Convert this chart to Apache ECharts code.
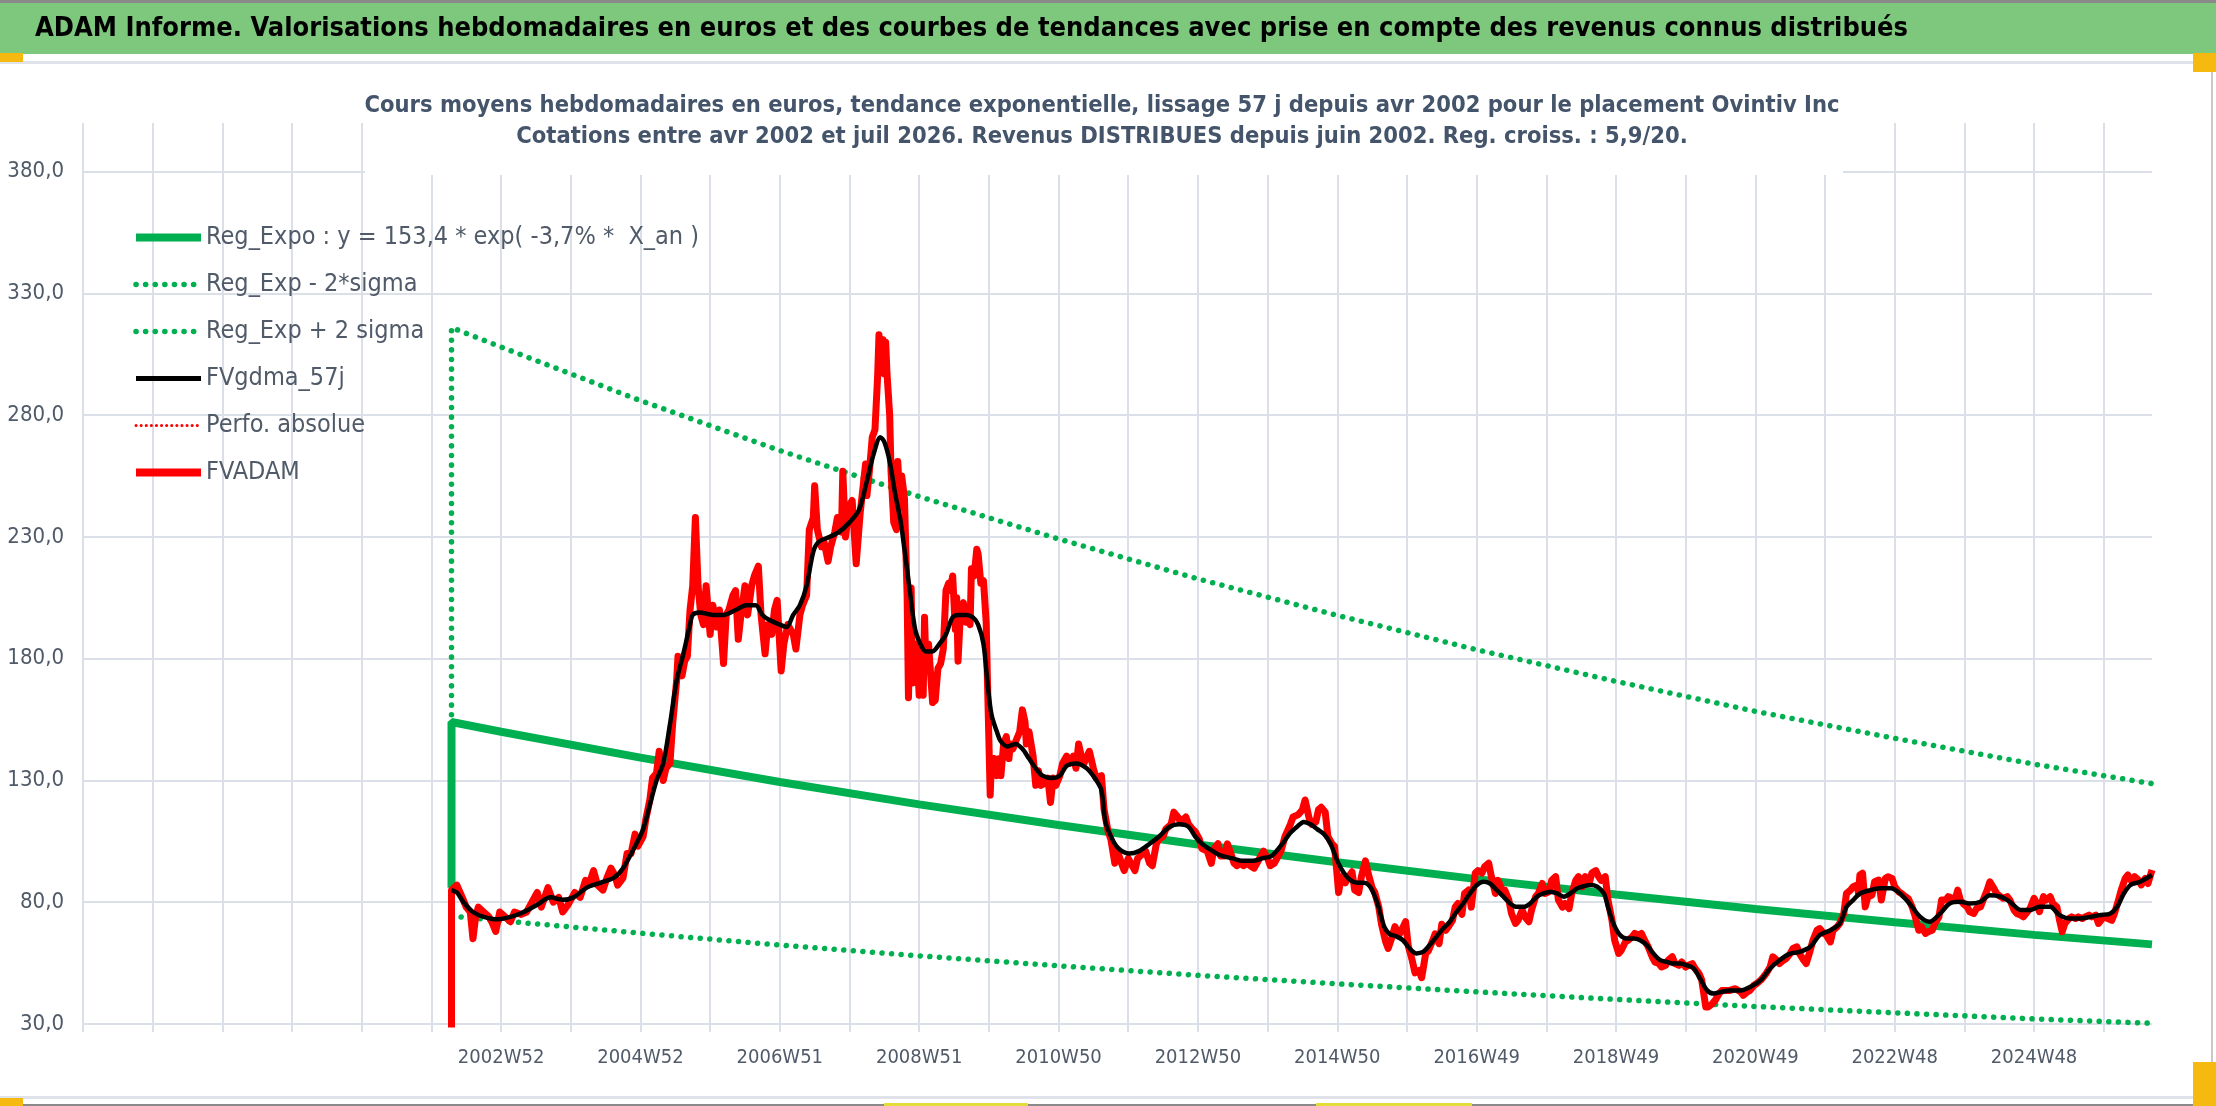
<!DOCTYPE html>
<html>
<head>
<meta charset="utf-8">
<script src="https://cdn.jsdelivr.net/npm/echarts@6/dist/echarts.min.js"></script>
<style>
  html, body { margin: 0; padding: 0; background: #fff; }
  #chart { width: 2216px; height: 1106px; }
</style>
</head>
<body>
<div id="chart"></div>
<script>
// axe X : index de semaine depuis le debut de l'axe (1 graduation = 52 semaines)
var xTickLabels = ['', '', '', '2002W52', '2004W52', '2006W51', '2008W51', '2010W50',
    '2012W50', '2014W50', '2016W49', '2018W49', '2020W49', '2022W48', '2024W48'];

// courbes de tendance (Reg_Expo et +/- 2 sigma)
var trendWeeks  = [275, 275, 312, 416, 520, 624, 728, 832, 936, 1040, 1144, 1248, 1352, 1456, 1544];
var regExpo     = [86, 154, 150, 139.4, 129.4, 120.2, 111.7, 103.7, 96.4, 89.5, 83.2, 77.2, 71.8, 66.6, 62.7];
var regExpMinus = [74.3, 74.3, 72.4, 67.3, 62.4, 58.0, 53.9, 50.0, 46.5, 43.2, 40.1, 37.2, 34.6, 32.1, 30.3];
var regExpPlus  = [157, 316, 308, 286, 265.5, 246.6, 229.2, 212.8, 197.8, 183.7, 170.7, 158.4, 147.3, 136.7, 128.7];

// FVADAM (cours hebdo)
var adamWeeks = [275,275,279,283,286,289,291,293,295,299,303,305,308,311,315,319,322,327,331,335,339,342,347,351,355,358,362,367,371,375,378,381,384,388,391,394,397,399,403,406,409,412,414,418,420,423,425,428,430,433,435,438,440,443,444,447,449,451,453,455,457,459,461,463,465,468,470,473,475,478,480,482,485,487,489,491,494,496,499,501,504,506,509,511,514,516,518,521,523,526,530,532,535,537,540,542,545,546,548,551,553,556,558,561,563,566,567,569,572,574,577,580,582,584,585,587,589,591,593,594,595,597,598,599,600,602,603,605,607,608,610,611,613,615,616,618,619,620,622,624,625,627,628,629,631,632,634,636,638,640,642,644,646,647,649,651,652,653,655,657,659,660,662,663,665,667,668,670,672,674,675,677,678,680,682,684,685,687,689,691,692,694,696,699,701,703,704,706,709,711,713,715,718,720,722,724,726,729,731,734,736,739,741,743,745,747,751,754,756,760,762,765,767,770,772,775,777,780,782,785,787,789,793,796,798,801,803,806,808,812,814,817,819,823,825,828,830,833,835,839,842,844,847,849,852,854,856,859,861,864,866,869,871,874,876,879,881,884,886,889,891,894,897,901,903,907,910,912,915,917,920,922,924,927,929,932,934,937,939,942,944,947,949,952,954,957,959,962,964,967,969,972,974,977,979,982,984,987,989,992,994,997,999,1002,1004,1007,1009,1012,1014,1017,1019,1022,1024,1026,1029,1031,1034,1036,1039,1041,1044,1046,1049,1051,1054,1056,1059,1061,1064,1066,1069,1071,1074,1076,1079,1081,1084,1086,1089,1091,1094,1096,1099,1101,1104,1106,1109,1111,1114,1116,1119,1121,1124,1126,1129,1131,1133,1136,1138,1141,1143,1146,1148,1151,1153,1156,1158,1161,1163,1166,1168,1171,1173,1176,1178,1181,1183,1186,1188,1191,1193,1196,1198,1201,1203,1206,1208,1211,1213,1216,1218,1221,1223,1225,1229,1233,1237,1239,1242,1244,1247,1249,1252,1254,1256,1259,1261,1264,1266,1269,1271,1274,1276,1279,1281,1284,1286,1289,1291,1294,1296,1299,1301,1304,1306,1309,1311,1314,1316,1319,1321,1324,1325,1326,1328,1330,1332,1335,1337,1340,1342,1345,1347,1350,1352,1355,1357,1360,1362,1365,1367,1370,1372,1375,1377,1380,1382,1385,1387,1390,1392,1395,1397,1399,1401,1403,1406,1408,1411,1413,1416,1418,1421,1423,1426,1428,1431,1433,1436,1438,1441,1443,1446,1448,1451,1453,1456,1458,1460,1463,1465,1468,1470,1473,1475,1477,1479,1482,1484,1487,1489,1492,1494,1497,1499,1502,1504,1507,1509,1511,1514,1516,1519,1521,1524,1526,1529,1531,1534,1536,1539,1541,1544];
var adamValues = [0,85,87,82,78,76,65,74,78,76,74,72,68,76,74,72,76,75,76,80,84,78,86,80,82,76,79,84,82,89,88,93,87,85,90,94,91,87,90,100,100,108,103,107,114,122,131,133,142,130,135,137,153,171,181,173,179,181,200,210,238,210,198,194,210,190,202,193,200,178,198,200,206,208,188,198,210,198,210,214,218,198,182,194,190,200,204,175,186,194,190,184,198,202,206,233,238,251,233,226,228,220,226,232,238,232,257,230,243,245,219,240,250,260,247,258,271,274,296,313,299,311,297,310,297,280,257,236,233,261,242,255,246,206,164,209,170,178,186,165,186,165,197,178,186,178,162,163,176,178,184,208,211,208,214,192,205,179,201,203,195,198,194,217,214,225,223,211,212,195,170,124,139,139,132,139,132,145,148,139,145,143,146,150,159,154,145,150,140,128,134,128,129,131,121,131,128,132,137,140,137,140,135,145,140,137,142,135,131,132,118,109,106,96,101,96,93,98,96,93,98,99,101,96,95,104,106,107,110,112,117,115,113,115,112,110,109,106,102,101,96,102,104,99,99,104,101,96,95,96,95,96,95,94,96,99,101,98,95,96,98,101,107,112,115,116,118,122,114.5,112,113,118,119,117,107,104,103,84,90.5,88,90,92.5,85,84,90.5,97,92,86,84,78,71,64,61,66,70,66.5,68.5,72,62,56,51,52,49,59,60,64,67,63,71,68.5,70,72.6,78,79.5,75,83.6,85,78,92,93,92,94.6,96,90.5,83.6,89,85,85,81,75.4,71.3,72.6,76.8,74,72,76.8,82.3,83.6,87.7,83.6,84.3,89,90.5,81,78,79.5,77.4,83.6,89,90.5,86.4,90.5,87.7,92,93,90.5,89,90.5,81,72.6,64.4,59,60.3,63.7,64.4,65.8,67.2,66.5,67.2,63.7,61.7,57.6,55.5,54.8,53.4,54.1,56.2,57.6,54.8,54.1,55.5,53.4,54.1,54.8,52.8,50.7,48,37,37,38.4,39.7,42.5,43.8,43.8,43.8,44.5,43.2,41.8,43.2,43.8,45.9,46.6,48,49.3,50.7,53.4,57.6,56.2,54.8,56.2,56.9,58.9,61,61.7,58.9,56.2,54.8,60.3,64.4,68.5,69.2,67.2,66.5,63.7,68.5,69.9,71.3,75.4,83.6,85,86.4,87.1,83.6,91.2,91.9,78.1,82.3,82.9,88.4,89.1,80.9,89.8,90.5,89.8,86.4,84.3,83.6,82.3,81.6,78.1,74.7,68.5,69.9,67.2,67.9,68.5,71.3,74,80.9,80.9,82.3,81.6,80.9,85,80.9,79.5,78.1,76.1,75.4,77.4,78.1,80.9,85,88.4,85.7,83.6,82.3,81.6,82.3,80.9,76.8,75.4,74.7,74,76.1,77.4,81.6,79.5,76.1,82.3,80.9,82.3,79.5,78.1,72.6,67.9,71.3,73.3,74,73.3,74,73.3,74,74.7,74,74.7,71.3,73.3,74,73.3,72.6,75.4,80.9,85,89.8,91.2,88.4,90.5,89.1,87.1,89.8,87.7,93.2];

// FVgdma_57j (moyenne lissee)
var gdmaWeeks = [275,279,284,291,299,309,319,329,339,349,358,366,376,386,396,403,411,418,423,428,433,438,443,448,453,455,460,470,478,487,495,502,507,512,520,525,530,535,540,545,549,557,564,572,579,585,590,595,598,602,606,610,613,617,621,625,629,634,639,644,649,654,659,664,668,672,675,678,682,685,690,696,701,706,711,716,723,729,734,741,749,755,760,763,768,773,781,788,796,803,811,818,825,830,835,843,850,858,865,873,880,887,895,901,906,911,916,921,926,931,936,941,946,951,956,961,966,971,975,980,985,990,995,1000,1005,1010,1015,1020,1025,1030,1035,1040,1045,1050,1055,1060,1065,1070,1075,1080,1085,1090,1095,1100,1105,1110,1115,1120,1125,1130,1135,1138,1142,1147,1152,1157,1162,1167,1172,1177,1182,1187,1192,1197,1202,1207,1212,1217,1222,1229,1237,1244,1252,1259,1266,1274,1281,1289,1296,1304,1311,1316,1321,1326,1334,1341,1349,1356,1363,1371,1378,1386,1393,1401,1408,1416,1423,1431,1438,1446,1453,1460,1468,1475,1483,1490,1498,1505,1513,1518,1523,1528,1535,1544];
var gdmaValues = [85,84,80,76,74,73,74,76,79,82,81,82,86,88,90,94,102,110,120,130,137,153,171,182,194,198,199,198,198,200,202,202,198,196,194,193,198,202,210,224,228,230,232,236,241,253,264,271,269,261,248,237,225,208,192,186,183,183,186,190,197,198,198,197,194,186,170,157,150,146,144,145,143,139,135,132,131,132,136,137,135,131,126,113,106,102,100,101,104,107,111,112,111,107,104,101,99,98,97,97,98,99,104,108.5,111,113,112,110,108,104,97,92,89,88,88,86,79.5,70,67,66,64.4,61,59,59.6,62.4,65.8,69.2,72,76,79.5,83.6,87,88.4,87.7,85,82.3,79.5,78.1,78.1,79.5,82.3,83.6,84.3,83.6,82.3,83.6,85.7,86.6,87.1,86.4,83.6,78.1,71.3,66.5,65.1,65.1,64.4,62.4,58.9,56.2,55.5,54.8,54.8,54.1,52.8,48.4,43.8,42.5,43.1,43.8,43.8,45.2,48,52.8,56.2,58.9,59.6,61.7,66.5,68.5,71.3,78.1,80.9,83.6,85,85.7,85.7,83.6,79.5,74,72,75.4,79.5,80.2,79.5,80.2,82.9,82.3,80.2,76.8,76.8,78.1,78.1,74.7,73.3,73.3,74,74.7,75.4,78.1,83.6,87.1,88.4,91.2];

function pairs(xs, ys) {
    return xs.map(function (x, i) { return [x, ys[i]]; });
}

var narrow = "'DejaVu Sans Condensed', 'Liberation Sans Narrow', sans-serif";
var gridColor = '#dadfe8';
var txtColor = '#505a68';
var dots = [0.1, 9.5];

var titleText = 'ADAM Informe. Valorisations hebdomadaires en euros et des courbes de tendances avec prise en compte des revenus connus distribués';
var sub1 = 'Cours moyens hebdomadaires en euros, tendance exponentielle, lissage 57 j depuis avr 2002 pour le placement Ovintiv Inc';
var sub2 = 'Cotations entre avr 2002 et juil 2026. Revenus DISTRIBUES depuis juin 2002. Reg. croiss. : 5,9/20.';
var regName = 'Reg_Expo : y = 153,4 * exp( -3,7% *  X_an )';

var myChart = echarts.init(document.getElementById('chart'));
var option = {
    backgroundColor: '#fff',
    animation: false,
    graphic: [
        {type: 'rect', shape: {x: 0, y: 0, width: 2216, height: 3}, style: {fill: '#8a8a8a'}, z: 10},
        {type: 'rect', shape: {x: 0, y: 3, width: 2216, height: 51}, style: {fill: '#7ec87e'}, z: 10},
        {type: 'text', z: 11, style: {x: 35, y: 29, text: titleText, fill: '#000',
            font: 'bold 27px ' + narrow, verticalAlign: 'middle'}},
        {type: 'rect', shape: {x: 0, y: 61, width: 2193, height: 3}, style: {fill: '#dfe2e8'}, z: 10},
        {type: 'rect', shape: {x: 0, y: 1096, width: 2193, height: 3}, style: {fill: '#dfe2e8'}, z: 10},
        {type: 'rect', shape: {x: 2211, y: 72, width: 2, height: 990}, style: {fill: '#c8c8c8'}, z: 10},
        {type: 'rect', shape: {x: 0, y: 1104, width: 2216, height: 2}, style: {fill: '#8a8a8a'}, z: 10},
        {type: 'rect', shape: {x: 884, y: 1103, width: 144, height: 3}, style: {fill: '#e3dc3a'}, z: 11},
        {type: 'rect', shape: {x: 1316, y: 1103, width: 156, height: 3}, style: {fill: '#e3dc3a'}, z: 11},
        {type: 'rect', shape: {x: 0, y: 53, width: 23, height: 9}, style: {fill: '#f6b90f'}, z: 11},
        {type: 'rect', shape: {x: 2193, y: 53, width: 23, height: 19}, style: {fill: '#f6b90f'}, z: 11},
        {type: 'rect', shape: {x: 0, y: 1098, width: 23, height: 8}, style: {fill: '#f6b90f'}, z: 11},
        {type: 'rect', shape: {x: 2193, y: 1062, width: 23, height: 44}, style: {fill: '#f6b90f'}, z: 11},
        {type: 'rect', shape: {x: 365, y: 84, width: 1478, height: 91}, style: {fill: '#fff'}, z: 10},
        {type: 'text', z: 11, style: {x: 1102, y: 106, text: sub1, fill: '#44546a',
            font: 'bold 23.5px ' + narrow, align: 'center', verticalAlign: 'middle'}},
        {type: 'text', z: 11, style: {x: 1102, y: 137, text: sub2, fill: '#44546a',
            font: 'bold 23.5px ' + narrow, align: 'center', verticalAlign: 'middle'}}
    ],
    legend: {
        orient: 'vertical',
        left: 127,
        top: 220,
        itemWidth: 65,
        itemHeight: 24,
        itemGap: 22,
        itemStyle: {opacity: 0},
        textStyle: {color: txtColor, fontSize: 25, fontFamily: narrow},
        data: [
            {name: regName, lineStyle: {width: 8}},
            {name: 'Reg_Exp - 2*sigma', lineStyle: {width: 5.5}},
            {name: 'Reg_Exp + 2 sigma', lineStyle: {width: 5.5}},
            {name: 'FVgdma_57j', lineStyle: {width: 5}},
            {name: 'Perfo. absolue', lineStyle: {width: 3}},
            {name: 'FVADAM', lineStyle: {width: 8}}
        ]
    },
    grid: {left: 83, right: 64, top: 123, bottom: 82, containLabel: false},
    xAxis: {
        type: 'value',
        min: 0,
        max: 1544,
        interval: 52,
        axisLine: {show: false},
        axisTick: {show: true, length: 8, lineStyle: {color: gridColor, width: 2}},
        splitLine: {show: true, showMaxLine: false, lineStyle: {color: gridColor, width: 2}},
        axisLabel: {
            color: txtColor, fontSize: 20, fontFamily: narrow, margin: 24, showMaxLabel: false,
            formatter: function (v) {
                return v % 104 === 0 ? (xTickLabels[v / 104] || '') : '';
            }
        }
    },
    yAxis: {
        type: 'value',
        min: 30,
        max: 400,
        interval: 50,
        axisLine: {show: false},
        axisTick: {show: false},
        splitLine: {show: true, showMaxLine: false, lineStyle: {color: gridColor, width: 2}},
        axisLabel: {
            color: txtColor, fontSize: 22, fontFamily: narrow, margin: 19, showMaxLabel: false,
            formatter: function (v) { return v.toFixed(1).replace('.', ','); }
        }
    },
    series: [
        {
            name: 'Reg_Exp - 2*sigma', type: 'line', symbol: 'none', z: 2,
            lineStyle: {color: '#00b050', width: 5.5, type: dots, cap: 'round'},
            itemStyle: {color: '#00b050'},
            data: pairs(trendWeeks, regExpMinus)
        },
        {
            name: 'Reg_Exp + 2 sigma', type: 'line', symbol: 'none', z: 2,
            lineStyle: {color: '#00b050', width: 5.5, type: dots, cap: 'round'},
            itemStyle: {color: '#00b050'},
            data: pairs(trendWeeks, regExpPlus)
        },
        {
            name: regName, type: 'line', symbol: 'none', z: 3,
            lineStyle: {color: '#00b050', width: 8},
            itemStyle: {color: '#00b050'},
            data: pairs(trendWeeks, regExpo)
        },
        {
            name: 'Perfo. absolue', type: 'line', symbol: 'none', z: 3,
            lineStyle: {color: '#ff0000', width: 3, type: [0.1, 5], cap: 'round'},
            itemStyle: {color: '#ff0000'},
            data: []
        },
        {
            name: 'FVADAM', type: 'line', symbol: 'none', z: 4,
            lineStyle: {color: '#ff0000', width: 7, join: 'round'},
            itemStyle: {color: '#ff0000'},
            data: pairs(adamWeeks, adamValues)
        },
        {
            name: 'FVgdma_57j', type: 'line', symbol: 'none', z: 5, smooth: 0.3,
            lineStyle: {color: '#000000', width: 4.5},
            itemStyle: {color: '#000000'},
            data: pairs(gdmaWeeks, gdmaValues)
        }
    ]
};
myChart.setOption(option);
</script>
</body>
</html>
